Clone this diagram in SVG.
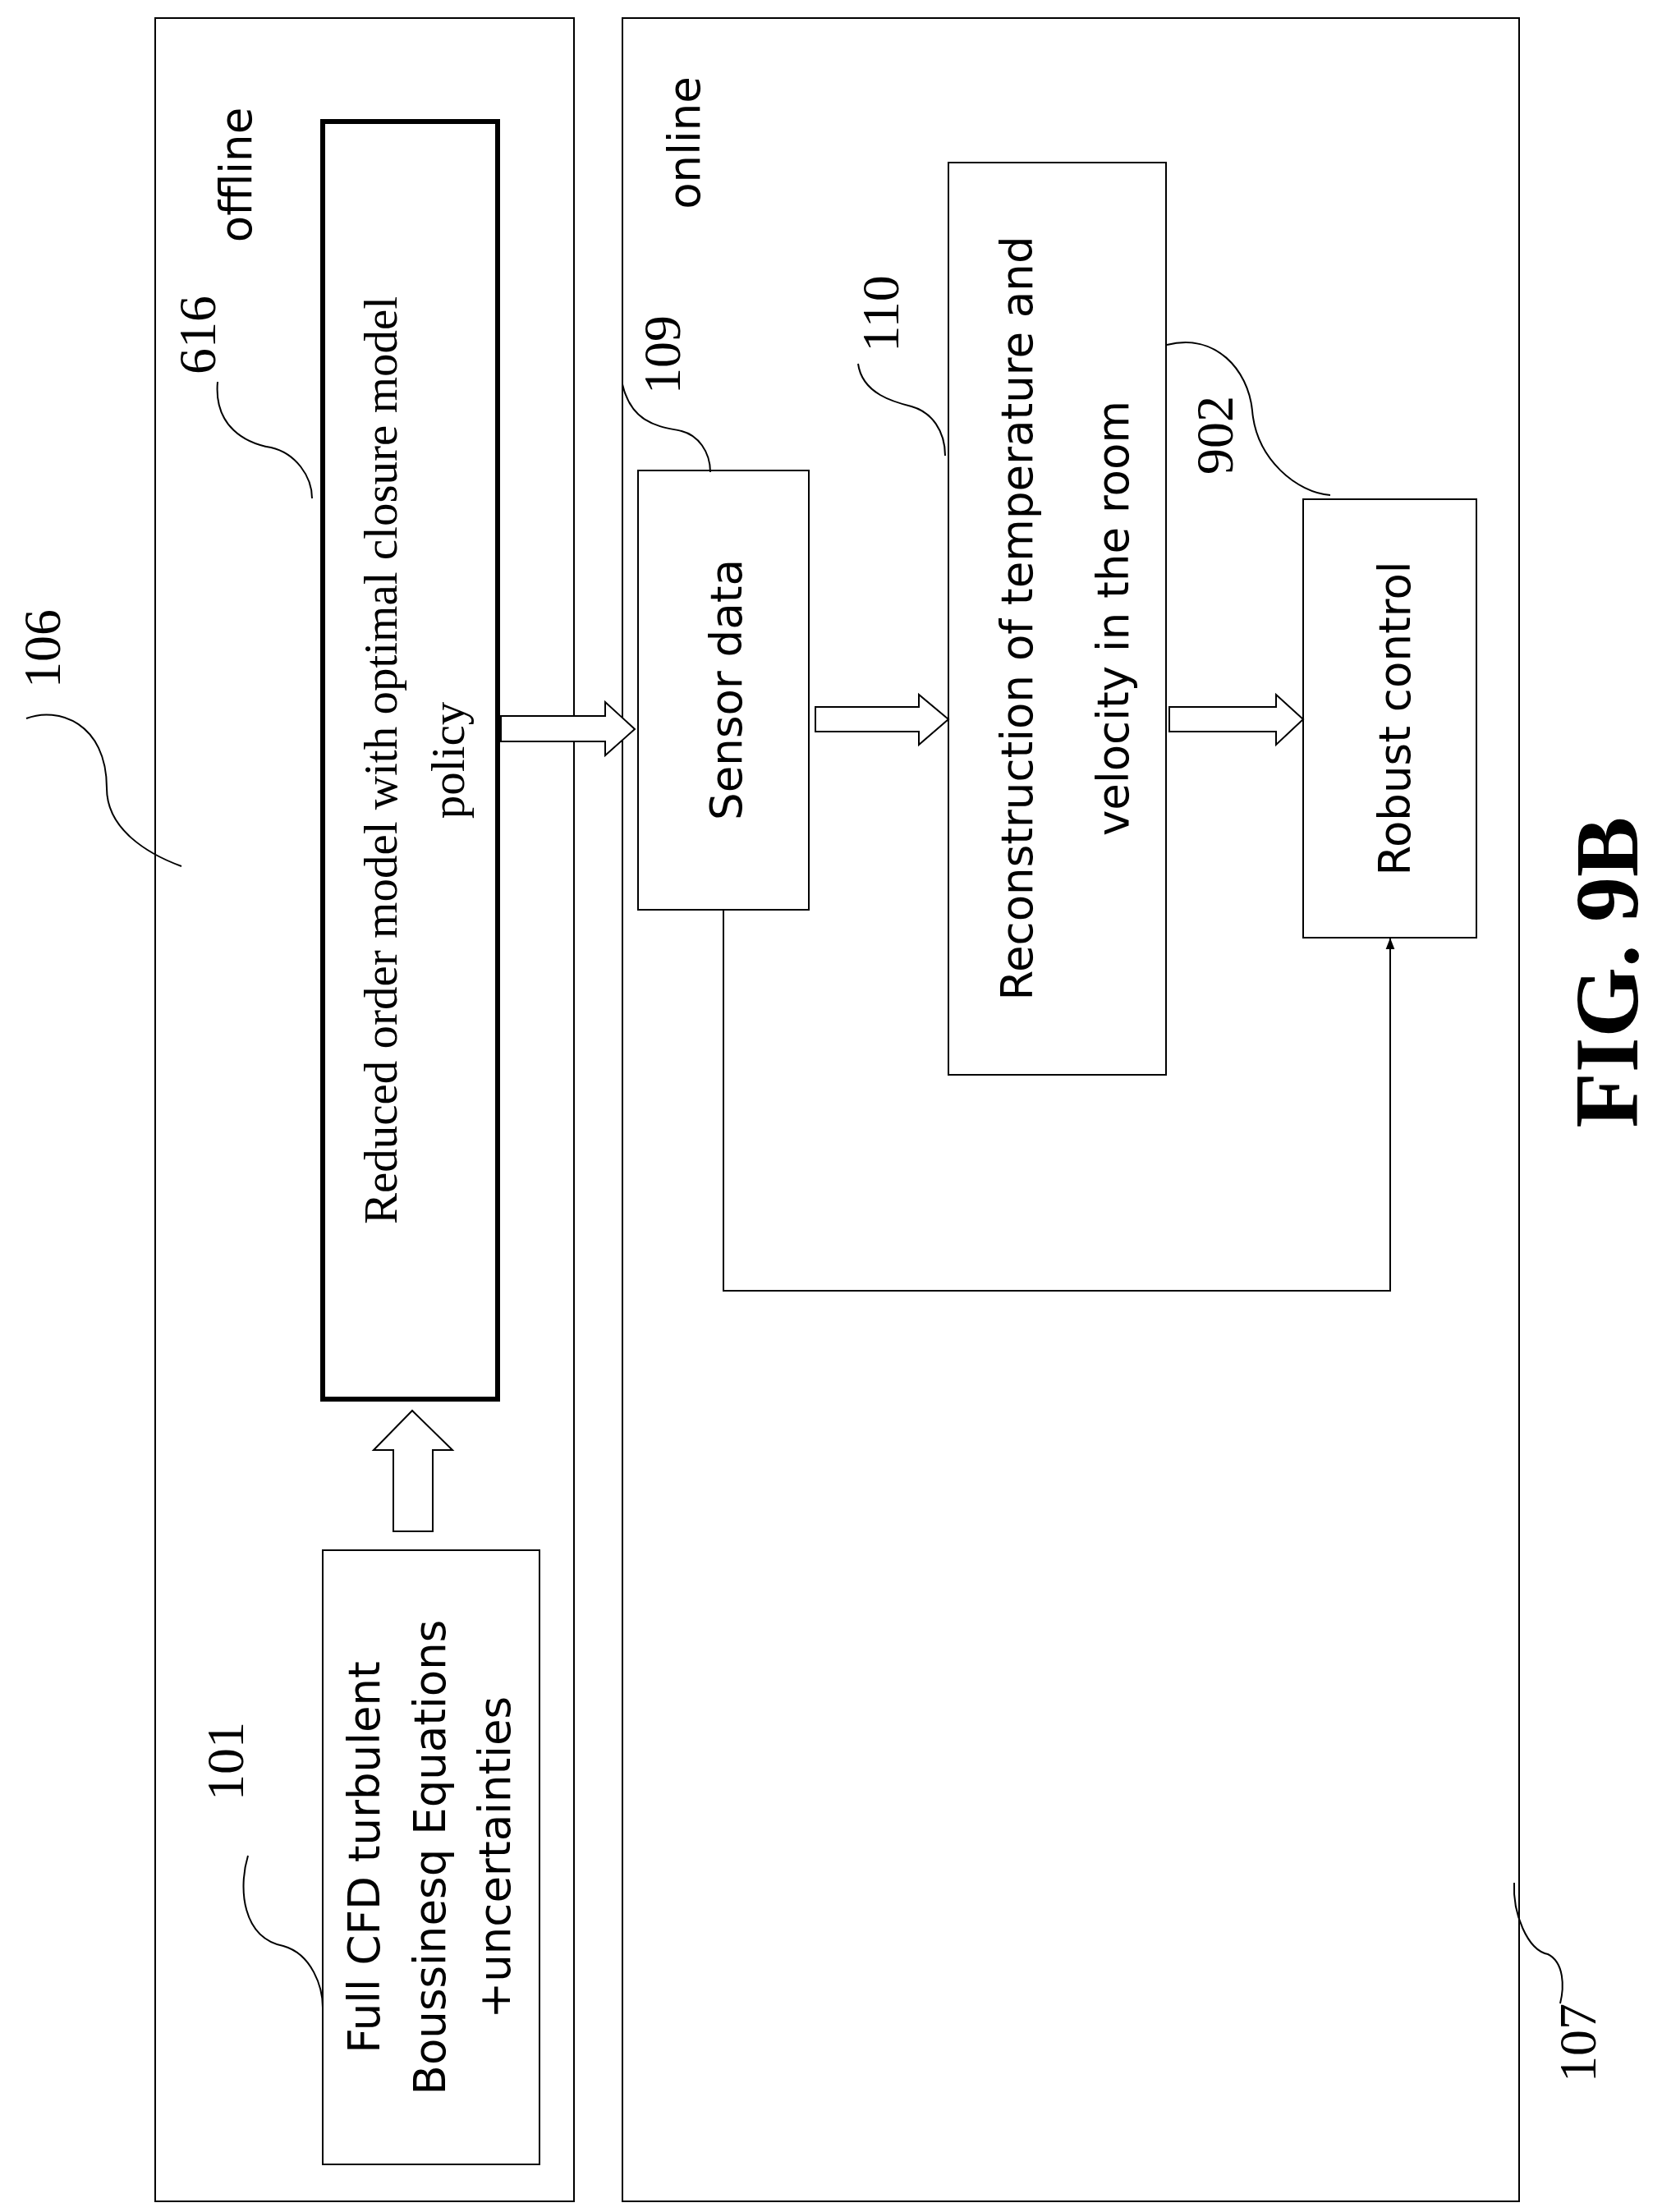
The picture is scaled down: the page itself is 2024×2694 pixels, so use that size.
<svg xmlns="http://www.w3.org/2000/svg" width="2024" height="2694" viewBox="0 0 2024 2694">
<style>
.b{fill:none;stroke:#000;stroke-width:2}
.ba{fill:#fff;stroke:#000;stroke-width:2}
.s{font-family:"DejaVu Sans",sans-serif;font-size:53px;text-anchor:middle}
.r{font-family:"Liberation Serif",serif;font-size:57px;text-anchor:middle}
.ln{fill:none;stroke:#000;stroke-width:2}
</style>
<defs><marker id="ah" markerWidth="14" markerHeight="18" refX="17" refY="7" orient="auto" markerUnits="userSpaceOnUse" viewBox="0 0 18 14"><path d="M0,0 L18,7 L0,14 z" fill="#000"/></marker></defs>
<rect fill="#fff" width="2024" height="2694"/>
<g id="offline"><rect class="b" x="189" y="22" width="510" height="2659"/>
<text class="s" font-size="78" transform="translate(280,213) rotate(-90)" dy="26">offline</text></g>
<g id="online"><rect class="b" x="758" y="22" width="1092" height="2659"/>
<text class="s" font-size="78" transform="translate(826,174) rotate(-90)" dy="26">online</text></g>
<g id="n616"><rect x="393" y="148" width="213" height="1556" fill="#fff" stroke="#000" stroke-width="6"/>
<text class="r" transform="translate(464,926) rotate(-90)" dy="19">Reduced order model with optimal closure model</text>
<text class="r" transform="translate(546,926) rotate(-90)" dy="19">policy</text></g>
<g id="n101"><rect class="b" x="393" y="1888" width="264" height="748"/>
<text class="s" transform="translate(443,2262) rotate(-90)" dy="19">Full CFD turbulent</text>
<text class="s" transform="translate(523,2262) rotate(-90)" dy="19">Boussinesq Equations</text>
<text class="s" transform="translate(602,2262) rotate(-90)" dy="19">+uncertainties</text></g>
<g id="n109"><rect class="b" x="777" y="573" width="208" height="535"/>
<text class="s" transform="translate(884,840) rotate(-90)" dy="19">Sensor data</text></g>
<g id="n110"><rect class="b" x="1155" y="198" width="265" height="1111"/>
<text class="s" transform="translate(1238,753) rotate(-90)" dy="19">Reconstruction of temperature and</text>
<text class="s" transform="translate(1355,753) rotate(-90)" dy="19">velocity in the room</text></g>
<g id="n902"><rect class="b" x="1587" y="608" width="211" height="534"/>
<text class="s" transform="translate(1698,875) rotate(-90)" dy="19">Robust control</text></g>
<g id="connectors">
<path class="ba" d="M479,1865 L479,1766 L455,1766 L502,1718 L551,1766 L527,1766 L527,1865 z"/>
<path class="ba" d="M610,872 L737,872 L737,855 L773,888 L737,920 L737,903 L610,903 z"/>
<path class="ba" d="M993,861 L1119,861 L1119,846 L1155,876 L1119,907 L1119,891 L993,891 z"/>
<path class="ba" d="M1424,861 L1554,861 L1554,846 L1587,876 L1554,907 L1554,891 L1424,891 z"/>
<path class="ln" d="M881,1108 L881,1572 L1693,1572 L1693,1143" marker-end="url(#ah)"/>
</g>
<g id="labels" font-family="Liberation Serif,serif" font-size="64">
<text transform="translate(51,790) rotate(-90)" dy="22" text-anchor="middle">106</text>
<path class="ln" d="M32,875 C70,860 130,880 130,960 C130,1010 180,1040 221,1055"/>
<text transform="translate(240,408) rotate(-90)" dy="22" text-anchor="middle">616</text>
<path class="ln" d="M265,465 C260,520 300,540 330,545 C360,552 380,580 380,607"/>
<text transform="translate(806,432) rotate(-90)" dy="22" text-anchor="middle">109</text>
<path class="ln" d="M758,468 C770,520 810,520 830,525 C850,530 865,550 865,575"/>
<text transform="translate(1072,382) rotate(-90)" dy="22" text-anchor="middle">110</text>
<path class="ln" d="M1045,443 C1050,480 1090,490 1110,495 C1135,502 1151,525 1151,555"/>
<text transform="translate(1479,530) rotate(-90)" dy="22" text-anchor="middle">902</text>
<path class="ln" d="M1421,420 C1480,405 1520,450 1525,500 C1530,560 1580,600 1620,603"/>
<text transform="translate(274,2145) rotate(-90)" dy="22" text-anchor="middle">101</text>
<path class="ln" d="M302,2260 C290,2300 295,2360 345,2370 C380,2380 393,2420 393,2445"/>
<text transform="translate(1921,2488) rotate(-90)" dy="22" text-anchor="middle">107</text>
<path class="ln" d="M1844,2293 C1842,2330 1860,2375 1885,2380 C1905,2390 1905,2420 1900,2440"/>
<text transform="translate(1956,1184) rotate(-90)" dy="38" text-anchor="middle" font-size="110" font-weight="bold">FIG. 9B</text>
</g>
</svg>
